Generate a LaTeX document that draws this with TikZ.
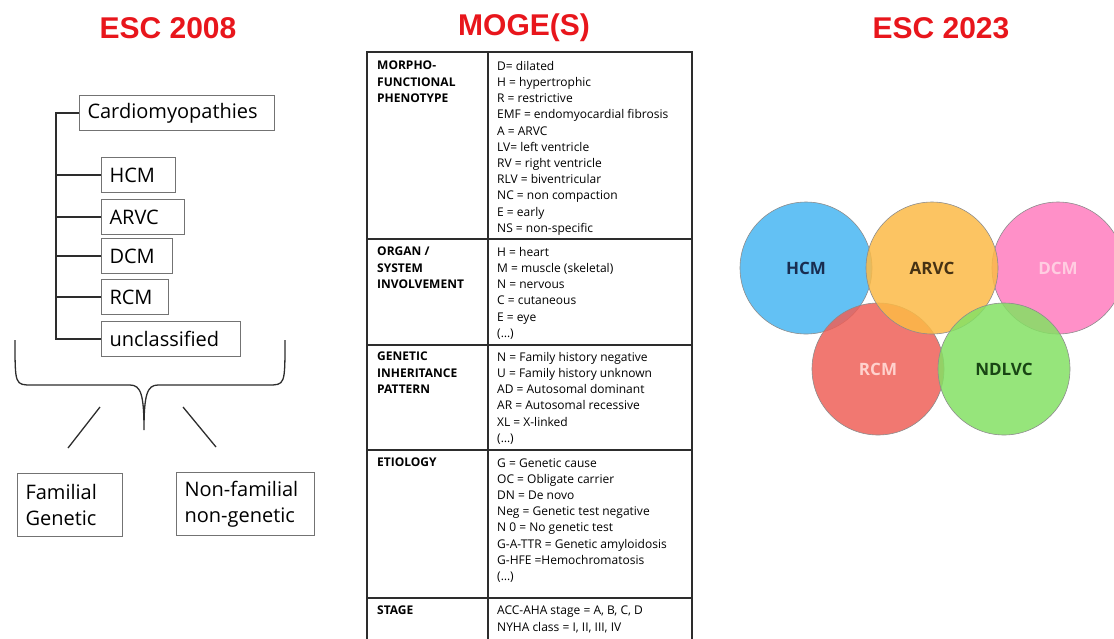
\documentclass[tikz,border=0pt]{standalone}
\usepackage{fontspec}
\setmainfont{Open Sans}
\newfontfamily\titlefont{Liberation Sans}
\definecolor{escred}{RGB}{232,22,28}
\definecolor{boxgray}{RGB}{115,115,115}
\definecolor{linegray}{RGB}{45,45,45}
\definecolor{hcmblue}{RGB}{72,182,242}
\definecolor{arvcorange}{RGB}{252,186,70}
\definecolor{dcmpink}{RGB}{255,124,190}
\definecolor{rcmred}{RGB}{238,96,88}
\definecolor{ndlvcgreen}{RGB}{132,224,100}
\tikzset{
  title/.style={font=\titlefont\fontsize{30}{36}\selectfont\bfseries, text=escred},
  cmbox/.style={draw=boxgray, line width=1pt, inner xsep=8pt, inner ysep=0pt,
    minimum height=35pt, anchor=west, text width=#1, align=left,
    font=\fontsize{20}{24}\selectfont},
  groupbox/.style={draw=boxgray, line width=1pt, inner xsep=8pt, anchor=north west,
    minimum height=63pt, text width=#1, align=left,
    font=\fontsize{20}{26}\selectfont},
  tree/.style={draw=linegray, line width=1.3pt},
  grid/.style={draw=linegray, line width=1.2pt},
  key/.style={anchor=north west, inner sep=0pt, align=left,
    font=\fontsize{12}{16.2}\selectfont\bfseries},
  code/.style={anchor=north west, inner sep=0pt, align=left,
    font=\fontsize{12}{16.2}\selectfont},
  venn/.style={circle, minimum size=132pt, draw=black!45, line width=0.6pt,
    fill opacity=0.85, text opacity=1, font=\fontsize{17}{20}\selectfont\bfseries}
}
\begin{document}
\begin{tikzpicture}[x=1pt,y=-1pt]
    \useasboundingbox (0,0) rectangle (1114,638);
    % titles
    \node[title] (t2008) at (168,28) {ESC 2008};
    \node[title] (tmoges) at (524,28) {MOGE(S)};
    \node[title] (t2023) at (941,28) {ESC 2023};

    % ESC 2008 tree
    \node[cmbox=179pt] (cardio) at (79,113) {Cardiomyopathies};
    \node[cmbox=58pt] (hcm) at (101,175) {HCM};
    \node[cmbox=67pt] (arvc) at (101,217) {ARVC};
    \node[cmbox=55pt] (dcm) at (101,256) {DCM};
    \node[cmbox=51pt] (rcm) at (101,297) {RCM};
    \node[cmbox=123pt] (unclass) at (101,339) {unclassified};
    \coordinate (trunk) at (56,113);
    \draw[tree] (cardio.west) -- (trunk) -- (trunk |- unclass.west) -- (unclass.west);
    \foreach \n in {hcm,arvc,dcm,rcm}
        \draw[tree] (\n.west) -- (\n.west -| trunk);
    % brace
    \draw[tree] (15,340) .. controls (15,385) .. (32,385) -- (130,385)
        .. controls (141,385) and (144,395) .. (144,430)
        .. controls (144,395) and (147,385) .. (158,385) -- (268,385)
        .. controls (285,385) .. (285,340);
    \node[groupbox=89pt] (famil) at (17,473) {Familial\\Genetic};
    \node[groupbox=122pt] (nonfam) at (176,472) {Non-familial\\non-genetic};
    \coordinate (lsplit) at (100,407);
    \coordinate (lend) at (68,448);
    \coordinate (rsplit) at (183,407);
    \coordinate (rend) at (216,447);
    \draw[tree] (lsplit) -- (lend);
    \draw[tree] (rsplit) -- (rend);

    % MOGE(S) table
    \draw[grid] (367,642) -- (367,52) -- (692,52) -- (692,642);
    \draw[grid] (488,52) -- (488,642);
    \foreach \y in {239,345,450,598}
        \draw[grid] (367,\y) -- (692,\y);
    \node[key] (k-morph) at (377,61) {MORPHO-\\FUNCTIONAL\\PHENOTYPE};
    \node[code] (c-morph) at (497,61) {D= dilated\\H = hypertrophic\\R = restrictive\\EMF = endomyocardial fibrosis\\A = ARVC\\LV= left ventricle\\RV = right ventricle\\RLV = biventricular\\NC = non compaction\\E = early\\NS = non-specific};
    \node[key] (k-organ) at (377,247) {ORGAN /\\SYSTEM\\INVOLVEMENT};
    \node[code] (c-organ) at (497,247) {H = heart\\M = muscle (skeletal)\\N = nervous\\C = cutaneous\\E = eye\\(…)};
    \node[key] (k-genet) at (377,352) {GENETIC\\INHERITANCE\\PATTERN};
    \node[code] (c-genet) at (497,352) {N = Family history negative\\U = Family history unknown\\AD = Autosomal dominant\\AR = Autosomal recessive\\XL = X-linked\\(…)};
    \node[key] (k-etio) at (377,458) {ETIOLOGY};
    \node[code] (c-etio) at (497,458) {G = Genetic cause\\OC = Obligate carrier\\DN = De novo\\Neg = Genetic test negative\\N 0 = No genetic test\\G-A-TTR = Genetic amyloidosis\\G-HFE =Hemochromatosis\\(…)};
    \node[key] (k-stage) at (377,606) {STAGE};
    \node[code] (c-stage) at (497,606) {ACC-AHA stage = A, B, C, D\\NYHA class = I, II, III, IV};

    % ESC 2023 circles
    \node[venn, fill=hcmblue, text={rgb,255:red,25;green,45;blue,80}] (v-hcm) at (806,268) {HCM};
    \node[venn, fill=dcmpink, text={rgb,255:red,255;green,205;blue,225}] (v-dcm) at (1058,268) {DCM};
    \node[venn, fill=rcmred, text={rgb,255:red,255;green,210;blue,205}] (v-rcm) at (878,369) {RCM};
    \node[venn, fill=arvcorange, text={rgb,255:red,70;green,50;blue,20}] (v-arvc) at (932,268) {ARVC};
    \node[venn, fill=ndlvcgreen, text={rgb,255:red,25;green,70;blue,20}] (v-ndlvc) at (1004,369) {NDLVC};
\end{tikzpicture}
\end{document}
